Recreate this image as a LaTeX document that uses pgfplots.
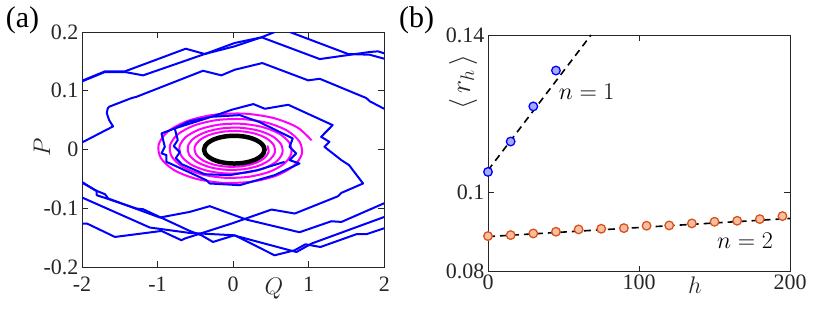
\RequirePackage{fix-cm}
\documentclass[border=0pt]{standalone}
\usepackage[no-math]{fontspec}
\setmainfont{Liberation Serif}
\usepackage{pgfplots}
\pgfplotsset{compat=1.18}
\definecolor{mblue}{RGB}{0,0,255}
\definecolor{mmag}{RGB}{255,0,255}
\definecolor{morange}{RGB}{217,83,25}
\definecolor{mfaceo}{RGB}{245,190,165}
\definecolor{mfaceb}{RGB}{165,172,252}
\definecolor{axgray}{RGB}{38,38,38}
\pgfplotsset{
  myax/.style={
    scale only axis, anchor=south west,
    axis line style={axgray, line width=0.9pt},
    every tick/.style={axgray, line width=0.9pt},
    tick align=inside, major tick length=6pt,
    tick label style={font=\fontsize{22}{25}\selectfont, text=axgray},
    /pgf/number format/assume math mode=true,
  }
}
\begin{document}
\begin{tikzpicture}
\useasboundingbox (0pt,0pt) rectangle (814pt,309pt);
% ---------------- panel (a)
\begin{axis}[myax, at={(82pt,41.7pt)}, width=302.3pt, height=235.3pt,
  xmin=-2, xmax=2, ymin=-0.2, ymax=0.2,
  xtick={-2,-1,0,1,2}, xticklabels={-2,-1,0,1,2},
  ytick={-0.2,-0.1,0,0.1,0.2}, yticklabels={-0.2,-0.1,0,0.1,0.2},
  xticklabel style={yshift=-6pt}]
% magenta spiral
\addplot[mmag, line width=2pt, smooth, tension=0.5] coordinates {
(1.0377,0.01578) (0.8486,0.03784) (0.5353,0.05375) (0.1478,0.06122) (-0.2543,0.05931) (-0.6095,0.04849) (-0.8656,0.03060) (-0.9861,0.00845)
(-0.9552,-0.01453) (-0.7811,-0.03483) (-0.4929,-0.04948) (-0.1360,-0.05636) (0.2340,-0.05460) (0.5611,-0.04465) (0.7968,-0.02817) (0.9077,-0.00777)
(0.8794,0.01338) (0.7191,0.03207) (0.4536,0.04555) (0.1252,0.05189) (-0.2155,0.05026) (-0.5165,0.04110) (-0.7335,0.02593) (-0.8356,0.00716)
(-0.8095,-0.01232) (-0.6619,-0.02952) (-0.4177,-0.04193) (-0.1153,-0.04776) (0.1983,-0.04627) (0.4755,-0.03784) (0.6752,-0.02387) (0.7692,-0.00659)
(0.7453,0.01134) (0.6094,0.02718) (0.3844,0.03860) (0.1062,0.04397) (-0.1826,0.04259) (-0.4378,0.03483) (-0.6217,0.02198) (-0.7082,0.00607)
(-0.6861,-0.01044) (-0.5610,-0.02502) (-0.3540,-0.03553) (-0.0977,-0.04047) (0.1681,-0.03921) (0.4030,-0.03206) (0.5723,-0.02023) (0.6519,-0.00558)
(0.6315,0.00961) (0.5164,0.02303) (0.3258,0.03271) (0.0899,0.03726) (-0.1547,0.03610) (-0.3709,0.02952) (-0.5268,0.01862) (-0.6001,0.00514)
(-0.5813,-0.00885) (-0.4754,-0.02120) (-0.3000,-0.03011) (-0.0828,-0.03430) (0.1424,-0.03323) (0.3415,-0.02717) (0.4849,-0.01714) (0.5524,-0.00473)
(0.5352,0.00814) (0.4377,0.01952) (0.2761,0.02772) (0.0762,0.03158) (-0.1311,0.03059) (-0.3144,0.02502) (-0.4465,0.01578) (-0.5086,0.00436)
(-0.4927,-0.00750) (-0.4029,-0.01797) (-0.2542,-0.02552) (-0.0702,-0.02907) (0.1207,-0.02816) (0.2894,-0.02303) (0.4110,-0.01453) (0.4682,-0.00401)
(0.4535,0.00690)};
% blue trajectories
\addplot[mblue, line width=2pt, line join=round] coordinates {
(-2.0,0.1171) (-1.696,0.1331) (-1.432,0.1331) (-0.627,0.1716) (-0.376,0.1626) (0.020,0.1813) (0.376,0.1910) (1.146,0.1540) (1.806,0.1660) (1.917,0.1671) (2.0,0.1637)};
\addplot[mblue, line width=2pt, line join=round] coordinates {
(-2.0,0.1160) (-1.696,0.1320) (-1.432,0.1320) (-1.191,0.1263) (-0.376,0.1626) (0.020,0.1757) (0.376,0.1910) (0.55,0.2)};
\addplot[mblue, line width=2pt, line join=round] coordinates {
(0.750,0.2) (1.521,0.1626) (1.806,0.1614) (2.0,0.1546)};
\addplot[mblue, line width=2pt, line join=round] coordinates {
(-2.0,0.0122) (-1.589,0.0395) (-1.640,0.0500) (-1.672,0.0620) (-1.660,0.0700) (-1.640,0.0730) (-1.344,0.0877) (-1.278,0.0899) (-0.399,0.1341) (-0.156,0.1263) (0.020,0.1358) (0.386,0.1472) (0.993,0.1178) (1.146,0.1205) (1.762,0.0877) (1.811,0.0820) (2.0,0.0694)};
\addplot[mblue, line width=2pt, line join=round] coordinates {
(-2.0,-0.0548) (-1.828,-0.0689) (-1.696,-0.0757) (-1.653,-0.0830) (-1.257,-0.1018) (-0.970,-0.1154) (-0.574,-0.1058) (-0.310,-0.0961) (0.174,-0.1188) (0.878,-0.1404) (1.300,-0.1217) (1.432,-0.1229) (2.0,-0.0910)};
\addplot[mblue, line width=2pt, line join=round] coordinates {
(-2.0,-0.0561) (-1.806,-0.0701) (-1.806,-0.0774) (-1.674,-0.0830) (-1.278,-0.1001) (-1.191,-0.1013) (-0.927,-0.1171) (-0.574,-0.1382) (-0.420,-0.1455) (-0.267,-0.1569) (0.020,-0.1455) (0.548,-0.1796) (0.812,-0.1711) (0.957,-0.1609) (1.155,-0.1655) (1.630,-0.1438) (1.762,-0.1438) (2.0,-0.1336)};
\addplot[mblue, line width=2pt, line join=round] coordinates {
(-2.0,-0.0813) (-1.102,-0.1324) (-0.574,-0.1416) (0.003,-0.1455) (0.750,-0.1711) (0.838,-0.1740) (1.036,-0.1597) (2.0,-0.1144)};
\addplot[mblue, line width=2pt, line join=round] coordinates {
(-2.0,-0.1256) (-1.934,-0.1256) (-1.564,-0.1484) (-0.948,-0.1382) (-0.684,-0.1540) (-0.640,-0.1511) (-0.020,-0.1256) (0.508,-0.1018) (0.816,-0.1086) (1.389,-0.0791) (1.432,-0.0735) (1.719,-0.0575) (1.534,-0.0263) (1.432,-0.0178) (1.208,0.0048) (1.274,0.0133) (1.164,0.0218) (1.317,0.0417) (0.729,0.0763) (0.420,0.0695) (0.267,0.0775) (-0.020,0.0678) (-0.288,0.0558) (-0.772,0.0361) (-0.948,0.0276) (-0.904,0.0048) (-0.948,-0.0064) (-0.882,-0.0093) (-0.882,-0.0207) (-0.354,-0.0519) (-0.310,-0.0575) (0.086,-0.0604) (0.548,-0.0434) (0.878,-0.0235) (0.746,-0.0178) (0.834,-0.0064) (0.746,0.0048) (0.789,0.0191) (0.350,0.0468) (0.086,0.0587) (-0.288,0.0558) (-0.574,0.0485) (-0.772,0.0361) (-0.733,0.0162) (-0.786,0.0060) (-0.706,-0.0042) (-0.759,-0.0144) (-0.680,-0.0247) (-0.376,-0.0417) (-0.046,-0.0434) (0.323,-0.0349) (0.680,-0.0207)};
% black ellipse
\addplot[black, line width=4.5pt, smooth] coordinates {
(0.415,0) (0.4014,0.00611) (0.3614,0.0118) (0.2978,0.01669) (0.215,0.02044) (0.1185,0.0228) (0.015,0.0236) (-0.0885,0.0228) (-0.185,0.02044) (-0.2678,0.01669) (-0.3314,0.0118) (-0.3714,0.00611) (-0.385,0)
(-0.3714,-0.00611) (-0.3314,-0.0118) (-0.2678,-0.01669) (-0.185,-0.02044) (-0.0885,-0.0228) (0.015,-0.0236) (0.1185,-0.0228) (0.215,-0.02044) (0.2978,-0.01669) (0.3614,-0.0118) (0.4014,-0.00611) (0.415,0) (0.4014,0.00611)};
\end{axis}
% ---------------- panel (b)
\begin{axis}[myax, at={(488pt,37.3pt)}, width=302pt, height=236.7pt,
  xmin=0, xmax=200, ymin=0.08, ymax=0.14, clip=false,
  xtick={0,100,200}, xticklabels={0,100,200},
  ytick={0.08,0.1,0.14}, yticklabels={0.08,0.1,0.14}]
\addplot[only marks, mark=*, mark size=4.3pt, mark options={draw=mblue, fill=mfaceb, line width=1.3pt}] coordinates {
(0,0.1053) (15,0.1130) (30,0.1219) (45,0.1310)};
\addplot[only marks, mark=*, mark size=4.3pt, mark options={draw=morange, fill=mfaceo, line width=1.3pt}] coordinates {
(0,0.08903) (15,0.08928) (30,0.08970) (45,0.09013) (60,0.09072) (75,0.09089) (90,0.09105) (105,0.09165) (120,0.09173) (135,0.09224) (150,0.09266) (165,0.09291) (180,0.09333) (195,0.09409)};
\addplot[black, line width=1.6pt, dash pattern=on 7pt off 5pt] coordinates {(0,0.1057) (68.2,0.14)};
\addplot[black, line width=1.6pt, dash pattern=on 7pt off 5pt] coordinates {(0,0.0889) (200,0.0935)};
\end{axis}
% ---------------- labels
\node[font=\fontsize{30}{32}\selectfont, text=black] at (22.5pt,289pt) {(a)};
\node[font=\fontsize{30}{32}\selectfont, text=black] at (416.5pt,289pt) {(b)};
\node[font=\fontsize{24}{28}\selectfont, rotate=90, text=axgray] at (42pt,162pt) {$P$};
\node[font=\fontsize{24}{28}\selectfont, text=axgray] at (274pt,20.7pt) {$Q$};
\node[font=\fontsize{24}{28}\selectfont, text=axgray] at (695pt,24pt) {$h$};
\node[font=\fontsize{28}{32}\selectfont, rotate=90, text=axgray] at (463pt,227pt) {$\langle\, r_h \,\rangle$};
\node[font=\fontsize{24}{28}\selectfont] at (586.7pt,217.3pt) {$n=1$};
\node[font=\fontsize{24}{28}\selectfont] at (745pt,68.2pt) {$n=2$};
\end{tikzpicture}
\end{document}
